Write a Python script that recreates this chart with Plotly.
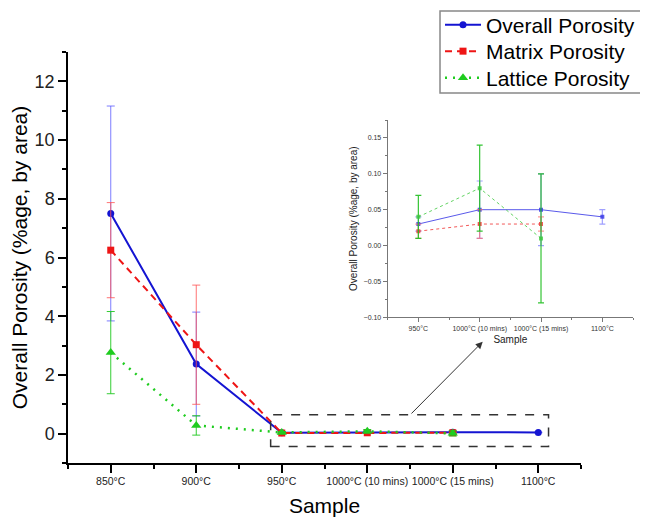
import plotly.graph_objects as go

# ---------------- data ----------------
samples = ["850°C", "900°C", "950°C", "1000°C (10 mins)", "1000°C (15 mins)", "1100°C"]
overall = [7.50, 2.37, 0.03, 0.05, 0.05, 0.04]
overall_err = [3.66, 1.77, 0.01, 0.04, 0.05, 0.01]
matrix = [6.25, 3.03, 0.02, 0.03, 0.03, None]
matrix_err = [1.62, 2.03, 0.01, 0.02, 0.01, None]
lattice = [2.76, 0.28, 0.04, 0.08, 0.01, None]
lattice_err = [1.40, 0.33, 0.03, 0.06, 0.09, None]
inset_start = 2  # inset shows samples from 950°C onward

FONT = "Arial, Liberation Sans, sans-serif"
BLUE, RED, GREEN = "#1414d2", "#ee1515", "#1fcc1f"

xi = list(range(len(samples)))
xin = list(range(len(samples) - inset_start))
sin = samples[inset_start:]

fig = go.Figure()

# ---------------- main traces ----------------
def main_trace(name, y, err, color, dash, symbol, size, width, ecolor, legend):
    return go.Scatter(
        x=xi, y=y, name=name, mode="lines+markers", legend=legend,
        line=dict(color=color, width=width, dash=dash),
        marker=dict(color=color, symbol=symbol, size=size),
        error_y=dict(type="data", array=err, visible=True, color=ecolor,
                     thickness=1, width=4),
        xaxis="x", yaxis="y",
    )

fig.add_trace(main_trace("Overall Porosity", overall, overall_err, BLUE, "solid",
                         "circle", 7, 2, "rgba(80,80,255,0.75)", "legend"))
fig.add_trace(main_trace("Matrix Porosity", matrix, matrix_err, RED, "7px,5px",
                         "square", 7, 2, "rgba(255,80,80,0.8)", "legend2"))
fig.add_trace(main_trace("Lattice Porosity", lattice, lattice_err, GREEN, "2px,6px",
                         "triangle-up", 9, 2.5, "rgba(30,200,30,0.9)", "legend3"))

# ---------------- inset traces ----------------
def inset_trace(y, err, color, dash, ecolor):
    return go.Scatter(
        x=xin, y=y[inset_start:], mode="lines+markers", showlegend=False,
        line=dict(color=color, width=1, dash=dash),
        marker=dict(color=color, symbol="square", size=4),
        error_y=dict(type="data", array=err[inset_start:], visible=True,
                     color=ecolor, thickness=1.2, width=3),
        xaxis="x2", yaxis="y2",
    )

fig.add_trace(inset_trace(overall, overall_err, "rgba(60,60,230,0.85)", "solid",
                          "rgba(120,120,255,0.7)"))
fig.add_trace(inset_trace(matrix, matrix_err, "rgba(240,60,60,0.85)", "dot",
                          "rgba(255,110,110,0.7)"))
fig.add_trace(inset_trace(lattice, lattice_err, "rgba(60,200,60,0.8)", "dot",
                          "rgba(30,190,30,0.9)"))

# ---------------- layout ----------------
LEG_X = 0.6284

def leg(y):
    return dict(x=LEG_X, y=y, xanchor="left", yanchor="middle",
                font=dict(size=21, family=FONT), borderwidth=0,
                bgcolor="rgba(0,0,0,0)", itemwidth=36)

fig.update_layout(
    width=670, height=509,
    margin=dict(l=60, r=18, t=44, b=54, autoexpand=False),
    paper_bgcolor="white", plot_bgcolor="white",
    font=dict(family=FONT, color="black"),
    showlegend=True,
    legend=leg(1.0657),
    legend2=leg(1.0012),
    legend3=leg(0.9367),
    xaxis=dict(
        domain=[0, 0.8666], range=[-0.5, 5.5], tickmode="array",
        tickvals=xi, ticktext=samples, tickangle=0,
        ticks="outside", ticklen=8, tickwidth=1.5,
        tickcolor="black", showline=True, linecolor="black", linewidth=1.5,
        showgrid=False, zeroline=False, automargin=False,
        tickfont=dict(size=10.5, color="#222"),
        minor=dict(tickmode="array", tickvals=[v - 0.5 for v in xi] + [xi[-1] + 0.5],
                   ticks="outside", ticklen=4, tickwidth=1.5, tickcolor="black",
                   showgrid=False),
        title=dict(text="Sample", font=dict(size=21), standoff=12),
    ),
    yaxis=dict(
        domain=[0, 1], range=[-1, 13], dtick=2, tick0=0,
        ticks="outside", ticklen=8, tickwidth=1.5, tickcolor="black",
        showline=True, linecolor="black", linewidth=1.5,
        showgrid=False, zeroline=False, automargin=False,
        tickfont=dict(size=18, color="#222"),
        minor=dict(dtick=1, tick0=1, ticks="outside", ticklen=4, tickwidth=1.5,
                   tickcolor="black", showgrid=False),
        title=dict(text="Overall Porosity (%age, by area)", font=dict(size=21),
                   standoff=2),
    ),
    xaxis2=dict(
        domain=[0.5400, 0.9544], anchor="y2", range=[-0.5, 3.5], tickmode="array",
        tickvals=xin, ticktext=sin, tickangle=0,
        ticks="outside", ticklen=4, tickwidth=1,
        tickcolor="#777", showline=True, linecolor="#777", linewidth=1,
        showgrid=False, zeroline=False, automargin=False,
        tickfont=dict(size=7, color="#333"),
        minor=dict(tickmode="array", tickvals=[v - 0.5 for v in xin] + [xin[-1] + 0.5],
                   ticks="outside", ticklen=2, tickwidth=1, tickcolor="#777",
                   showgrid=False),
        title=dict(text="Sample", font=dict(size=10, color="#222"), standoff=4),
    ),
    yaxis2=dict(
        domain=[0.3545, 0.8345], anchor="x2", range=[-0.1, 0.175], dtick=0.05,
        tick0=0, tickformat=".2f", ticks="outside", ticklen=4, tickwidth=1,
        tickcolor="#777", showline=True, linecolor="#777", linewidth=1,
        showgrid=False, zeroline=False, automargin=False,
        tickfont=dict(size=7, color="#333"),
        minor=dict(dtick=0.025, tick0=0, ticks="outside", ticklen=2, tickwidth=1,
                   tickcolor="#777", showgrid=False),
        title=dict(text="Overall Porosity (%age, by area)",
                   font=dict(size=10, color="#222"), standoff=4),
    ),
)

# legend frame
fig.add_shape(type="rect", xref="paper", yref="paper", x0=LEG_X, x1=0.99,
              y0=0.9002, y1=1.0998, line=dict(color="#888", width=1.5),
              fillcolor="rgba(0,0,0,0)", layer="above")

# dashed box highlighting the zoomed region
fig.add_shape(type="rect", xref="x", yref="y", x0=1.87, x1=5.12, y0=-0.44, y1=0.64,
              line=dict(color="#333", width=1.5, dash="dash"), fillcolor="rgba(0,0,0,0)")

# arrow to inset
fig.add_annotation(xref="paper", yref="paper", x=0.7005, y=0.2951, ax=-72.7, ay=73.3,
                   axref="pixel", ayref="pixel", text="", showarrow=True,
                   arrowhead=2, arrowsize=1.4, arrowwidth=1, arrowcolor="#333")

fig.write_html("out.html")
